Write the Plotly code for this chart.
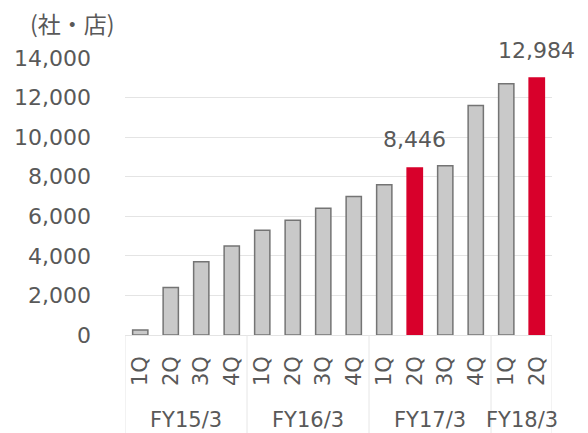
import plotly.graph_objects as go

# Fiscal-year groups and quarters for each bar
fiscal_years = ["FY15/3"] * 4 + ["FY16/3"] * 4 + ["FY17/3"] * 4 + ["FY18/3"] * 2
quarters = ["1Q", "2Q", "3Q", "4Q", "1Q", "2Q", "3Q", "4Q",
            "1Q", "2Q", "3Q", "4Q", "1Q", "2Q"]
counts = [250, 2400, 3700, 4500, 5300, 5800, 6400, 7000,
          7600, 8446, 8550, 11600, 12700, 12984]
highlight = [False] * 9 + [True] + [False] * 3 + [True]

y_ticks = [0, 2000, 4000, 6000, 8000, 10000, 12000, 14000]
y_tick_text = ["0", "2,000", "4,000", "6,000", "8,000", "10,000", "12,000", "14,000"]
unit_label = "(社・店)"

GREY_FILL = "#c9c9c9"
GREY_LINE = "#747474"
RED = "#d8002b"
TEXT = "#595959"
DIVIDER = "#e6e6e6"
FONT = "DejaVu Sans"

positions = list(range(len(quarters)))
fill_colors = [RED if h else GREY_FILL for h in highlight]
line_colors = [RED if h else GREY_LINE for h in highlight]

fig = go.Figure(
    go.Bar(
        x=positions,
        y=counts,
        marker=dict(color=fill_colors, line=dict(color=line_colors, width=1.5)),
        width=0.5,
        hoverinfo="skip",
    )
)

# Value callouts above the highlighted bars
for p, v, h in zip(positions, counts, highlight):
    if h:
        fig.add_annotation(
            x=p, y=v, text=f"{v:,}", showarrow=False,
            yshift=28, font=dict(family=FONT, size=22, color=TEXT),
        )

# Fiscal-year group labels and separators beneath the quarter labels
groups = []
for p, fy in zip(positions, fiscal_years):
    if groups and groups[-1][0] == fy:
        groups[-1][2] = p
    else:
        groups.append([fy, p, p])

AXIS_BOTTOM = -0.36
for fy, start, end in groups:
    fig.add_annotation(
        x=(start + end) / 2, y=-0.306, yref="paper", yanchor="middle",
        text=fy, showarrow=False, borderpad=0,
        font=dict(family=FONT, size=21, color=TEXT),
    )
edges = [groups[0][1] - 0.5] + [end + 0.5 for _, _, end in groups]
for e in edges:
    fig.add_shape(
        type="line", xref="x", yref="paper", x0=e, x1=e, y0=0, y1=AXIS_BOTTOM,
        line=dict(color=DIVIDER, width=1),
    )

fig.add_annotation(
    xref="paper", yref="paper", x=-0.228, y=1.125, xanchor="left", yanchor="middle",
    text=unit_label, showarrow=False,
    font=dict(family="Noto Sans CJK JP", size=23, color=TEXT),
)

fig.update_layout(
    width=588, height=433,
    margin=dict(l=125, r=36, t=58, b=98, autoexpand=False),
    paper_bgcolor="white", plot_bgcolor="white",
    showlegend=False,
    font=dict(family=FONT, size=22, color=TEXT),
)
fig.update_yaxes(
    range=[0, 14000], tickvals=y_ticks, ticktext=y_tick_text,
    showgrid=True, gridcolor="#e4e4e4", gridwidth=1,
    zeroline=True, zerolinecolor="#e4e4e4", zerolinewidth=1,
    ticks="", ticklabelstandoff=33, automargin=False,
    tickfont=dict(family=FONT, size=22, color=TEXT),
)
fig.update_xaxes(
    range=[-0.5, len(quarters) - 0.5],
    tickvals=positions, ticktext=quarters, tickangle=-90,
    tickfont=dict(family=FONT, size=21, color=TEXT),
    showgrid=False, zeroline=False,
    ticks="", showline=False, automargin=False, ticklabelstandoff=16,
)

fig.write_html("out.html")
